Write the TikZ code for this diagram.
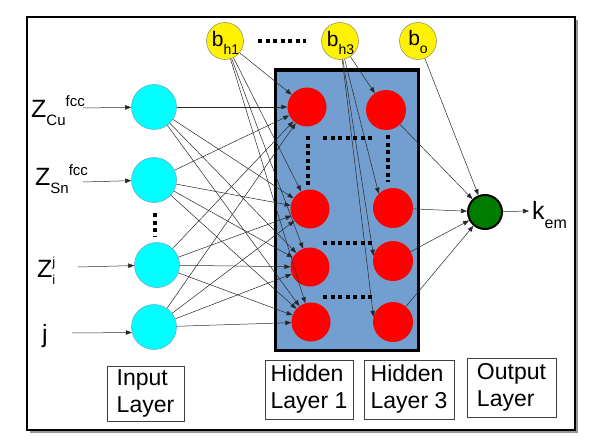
\documentclass[tikz,border=0pt]{standalone}
\usepackage{fontspec}
\setmainfont{Liberation Sans}
\usetikzlibrary{arrows.meta}
\definecolor{boxblue}{RGB}{114,159,207}
\definecolor{nodecyan}{RGB}{0,255,255}
\definecolor{cyanedge}{RGB}{110,170,200}
\definecolor{yedge}{RGB}{150,150,110}
\definecolor{outgreen}{RGB}{0,125,0}
\definecolor{linegray}{RGB}{40,40,40}
\definecolor{shadowgray}{RGB}{150,150,150}
\tikzset{
  inp/.style={circle,fill=nodecyan,draw=cyanedge,line width=0.6pt,minimum size=45pt,inner sep=0pt},
  hid/.style={circle,fill=red,minimum size=39pt,inner sep=0pt},
  bias/.style={circle,fill=yellow,draw=yedge,line width=0.6pt,minimum size=37pt,inner sep=0pt},
  outn/.style={circle,fill=outgreen,draw=black,line width=2pt,minimum size=34pt,inner sep=0pt},
  conn/.style={draw=linegray,line width=0.5pt,-{Triangle[length=6pt,width=4.5pt]}},
  dotline/.style={line width=4pt,dash pattern=on 4pt off 3.5pt},
  lbl/.style={draw=black!75,line width=0.7pt,align=left,inner sep=0pt,font=\fontsize{23}{27}\selectfont},
  txt/.style={inner sep=0pt,anchor=base west,font=\fontsize{25}{25}\selectfont},
  btxt/.style={inner sep=0pt,anchor=base,font=\fontsize{21}{21}\selectfont}
}
\newcommand{\smalltxt}[2]{{\fontsize{#1}{#1}\selectfont #2}}
\begin{document}
\begin{tikzpicture}[x=1pt,y=-1pt]
\useasboundingbox (0,0) rectangle (594,444);
% outer frame with shadow
\fill[shadowgray] (30,20) rectangle (578,433);
\draw[fill=white,line width=1.5pt] (27,17) rectangle (575,430);
% hidden block
\draw[fill=boxblue,line width=3pt] (275,70) rectangle (418,350);

% input nodes
\node[inp] (in1) at (154,107) {};
\node[inp] (in2) at (154,180) {};
\node[inp] (in3) at (157,265) {};
\node[inp] (in4) at (154,327) {};
% hidden layer 1
\node[hid] (a1) at (307,107) {};
\node[hid] (a2) at (310,209) {};
\node[hid] (a3) at (310,267) {};
\node[hid] (a4) at (311,322) {};
% hidden layer 3
\node[hid,minimum size=40pt] (c1) at (386,110) {};
\node[hid,minimum size=40pt] (c2) at (393,208) {};
\node[hid,minimum size=40pt] (c3) at (393,261) {};
\node[hid,minimum size=40pt] (c4) at (393,322) {};
% biases
\node[bias] (bh1) at (225,41) {};
\node[bias] (bh3) at (340,41) {};
\node[bias] (bo) at (418,41) {};
\node[btxt] (tbh1) at (225.5,47) {b\raisebox{-8pt}{\smalltxt{14}{h1}}};
\node[btxt] (tbh3) at (340.5,47) {b\raisebox{-8pt}{\smalltxt{14}{h3}}};
\node[btxt] (tbo) at (418,46) {b\raisebox{-8pt}{\smalltxt{14}{o}}};
% output
\node[outn] (out) at (485,212) {};

% input labels
\node[txt] (lcu) at (31,117) {Z\raisebox{-8pt}{\smalltxt{15}{Cu}}\raisebox{10pt}{\smalltxt{15}{fcc}}};
\node[txt] (lsn) at (35,185) {Z\raisebox{-8pt}{\smalltxt{15}{Sn}}\raisebox{10pt}{\smalltxt{15}{fcc}}};
\node[txt] (lzi) at (37,277) {Z\rlap{\raisebox{11pt}{\smalltxt{13}{j}}}\raisebox{-7pt}{\smalltxt{13}{i}}};
\node[txt] (lj) at (42,342) {j};
\coordinate (s1) at (83,108);
\coordinate (s2) at (83,182);
\coordinate (s3) at (78,267);
\coordinate (s4) at (72,333);
\draw[conn] (s1) -- (in1);
\draw[conn] (s2) -- (in2);
\draw[conn] (s3) -- (in3);
\draw[conn] (s4) -- (in4.194);

% input -> hidden 1
\foreach \i in {in1,in2,in3,in4}{
  \foreach \h in {a1,a2,a3,a4}{
    \draw[conn] (\i) -- (\h);
  }
}
% bias h1 -> hidden 1
\foreach \h in {a1,a2,a3,a4}{
  \draw[conn] (bh1) -- (\h);
}
% bias h3 -> hidden 3
\draw[conn] (bh3) -- (c1);
\draw[conn] (bh3) -- (c2.135);
\draw[conn] (bh3) -- (c3.165);
\draw[conn] (bh3) -- (c4.165);
% hidden 3 -> output
\foreach \h in {c1,c2,c3,c4}{
  \draw[conn] (\h) -- (out);
}
\draw[conn] (bo) -- (out);
% output -> k
\coordinate (kend) at (529,211);
\draw[conn] (out) -- (kend);
\node[txt] (lk) at (532,219) {k\raisebox{-9pt}{\smalltxt{16}{em}}};

% dotted continuation marks
\draw[dotline] (258,41) -- (306,41);
\draw[dotline] (155,213) -- (155,237);
\draw[dotline] (308,136) -- (308,185);
\draw[dotline] (323,138) -- (374,138);
\draw[dotline] (388,135) -- (388,182);
\draw[dotline] (323,243) -- (374,243);
\draw[dotline] (323,297) -- (374,297);

% layer labels
\node[lbl,minimum width=77pt,minimum height=55pt] (Lin) at (145.5,393.5) {Input\\Layer};
\node[lbl,minimum width=88pt,minimum height=59pt] (Lh1) at (309,389.5) {Hidden\\Layer 1};
\node[lbl,minimum width=90pt,minimum height=59pt] (Lh3) at (409,389.5) {Hidden\\Layer 3};
\node[lbl,minimum width=89pt,minimum height=59pt] (Lout) at (511.5,387.5) {Output\\Layer};
\end{tikzpicture}
\end{document}
